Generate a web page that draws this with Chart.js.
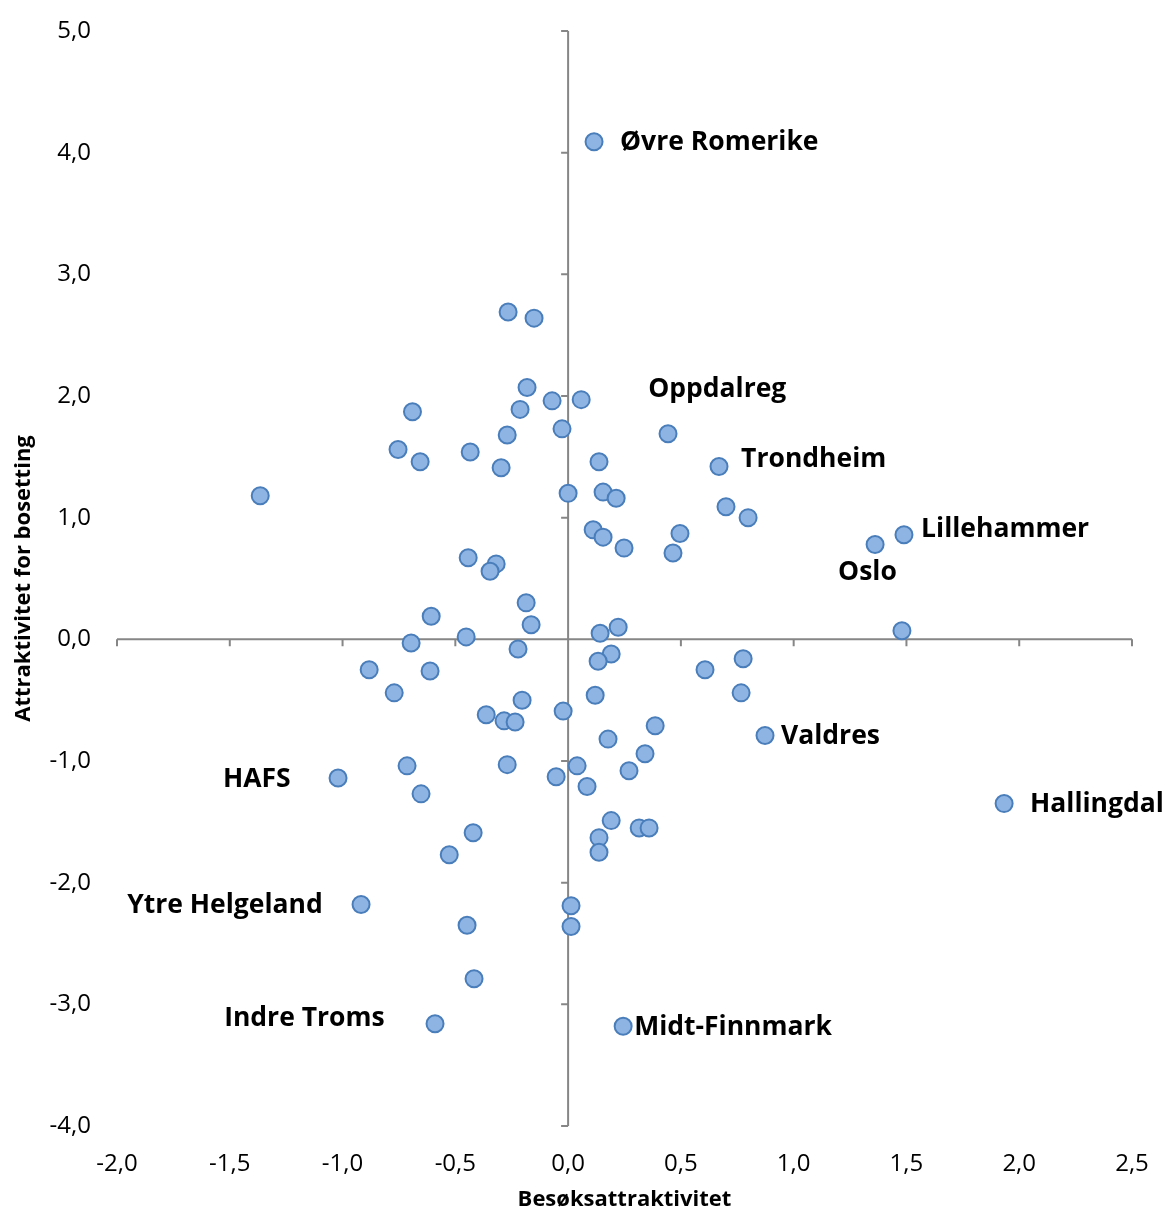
<!DOCTYPE html>
<html>
<head>
<meta charset="utf-8">
<script src="https://cdn.jsdelivr.net/npm/chart.js@4/dist/chart.umd.min.js"></script>
<style>
  body { margin: 0; background: #fff; }
  #wrap { width: 1165px; height: 1213px; position: relative; }
</style>
</head>
<body>
<div id="wrap"><canvas id="chart"></canvas></div>
<script>
// Besøksattraktivitet (x) og attraktivitet for bosetting (y), lest av figuren
const besok = [0.115, -0.266, -0.151, -0.182, -0.071, 0.058, -0.69, -0.213, -0.27, -0.027,
  0.443, -0.754, -0.656, -0.434, -0.297, 0.137, 0.669, -1.365, 0.0, 0.155,
  0.213, 0.70, 0.798, 0.111, 0.155, 0.496, 0.248, 0.465, 1.361, 1.489,
  -0.443, -0.319, -0.346, -0.186, -0.607, -0.164, 1.48, 0.222, 0.142, -0.452,
  -0.696, -0.222, 0.191, 0.133, 0.776, -0.882, -0.612, 0.607, -0.771, -0.204,
  0.12, 0.767, -0.022, -0.363, -0.284, -0.235, 0.386, 0.873, 0.177, 0.341,
  -0.714, -0.27, 0.04, 0.27, -1.02, -0.053, 0.084, -0.652, 1.933, 0.191,
  -0.421, 0.315, 0.359, 0.137, 0.137, -0.527, -0.918, 0.013, -0.448, 0.013,
  -0.417, -0.59, 0.244];
const bosetting = [4.09, 2.69, 2.64, 2.07, 1.96, 1.97, 1.87, 1.89, 1.68, 1.73,
  1.69, 1.56, 1.46, 1.54, 1.41, 1.46, 1.42, 1.18, 1.20, 1.21,
  1.16, 1.09, 1.00, 0.90, 0.84, 0.87, 0.75, 0.71, 0.78, 0.86,
  0.67, 0.62, 0.56, 0.30, 0.19, 0.12, 0.07, 0.10, 0.05, 0.02,
  -0.03, -0.08, -0.12, -0.18, -0.16, -0.25, -0.26, -0.25, -0.44, -0.50,
  -0.46, -0.44, -0.59, -0.62, -0.67, -0.68, -0.71, -0.79, -0.82, -0.94,
  -1.04, -1.03, -1.04, -1.08, -1.14, -1.13, -1.21, -1.27, -1.35, -1.49,
  -1.59, -1.55, -1.55, -1.63, -1.75, -1.77, -2.18, -2.19, -2.35, -2.36,
  -2.79, -3.16, -3.18];

// Navn på utvalgte regioner og hvor teksten står (i akseverdier)
const navn   = ['Øvre Romerike', 'Oppdalreg', 'Trondheim', 'Lillehammer', 'Oslo', 'Valdres',
                'HAFS', 'Hallingdal', 'Ytre Helgeland', 'Indre Troms', 'Midt-Finnmark'];
const navnX  = [0.23, 0.355, 0.767, 1.565, 1.197, 0.944, -1.53, 2.048, -1.955, -1.525, 0.293];
const navnY  = [4.08, 2.05, 1.48, 0.90, 0.55, -0.80, -1.15, -1.36, -2.19, -3.12, -3.19];

const xMin = -2, xMax = 2.5, xStep = 0.5;
const yMin = -4, yMax = 5, yStep = 1;

const punkter = besok.map((x, i) => ({ x: x, y: bosetting[i] }));
const komma = v => Number(v).toFixed(1).replace('.', ',');

const tickFont = { family: 'Open Sans', size: 24 };
const titleFont = { family: 'Open Sans', size: 22, weight: 'bold' };
const axisGray = '#868686';

// Aksene krysser i null, med små streker ved hver verdi
const nullAkser = {
  id: 'nullAkser',
  beforeDatasetsDraw(chart) {
    const { ctx, chartArea: a, scales: { x, y } } = chart;
    const x0 = x.getPixelForValue(0);
    const y0 = y.getPixelForValue(0);
    ctx.save();
    ctx.strokeStyle = axisGray;
    ctx.lineWidth = 2;
    ctx.beginPath();
    ctx.moveTo(a.left, y0); ctx.lineTo(a.right, y0);
    ctx.moveTo(x0, a.top); ctx.lineTo(x0, a.bottom);
    x.ticks.forEach(t => {
      const px = x.getPixelForValue(t.value);
      ctx.moveTo(px, y0); ctx.lineTo(px, y0 + 7);
    });
    y.ticks.forEach(t => {
      const py = y.getPixelForValue(t.value);
      ctx.moveTo(x0 - 7, py); ctx.lineTo(x0, py);
    });
    ctx.stroke();
    ctx.restore();
  }
};

const navnelapper = {
  id: 'navnelapper',
  afterDraw(chart) {
    const { ctx, scales: { x, y } } = chart;
    ctx.save();
    ctx.fillStyle = '#000';
    ctx.font = 'bold 26.5px "Open Sans"';
    ctx.textAlign = 'left';
    ctx.textBaseline = 'middle';
    navn.forEach((n, i) => {
      ctx.fillText(n, x.getPixelForValue(navnX[i]), y.getPixelForValue(navnY[i]));
    });
    ctx.restore();
  }
};

new Chart(document.getElementById('chart'), {
  type: 'scatter',
  data: {
    datasets: [{
      data: punkter,
      backgroundColor: '#8EB4E3',
      borderColor: '#4A7EBB',
      borderWidth: 2,
      pointRadius: 8.5,
      pointHoverRadius: 8.5
    }]
  },
  options: {
    responsive: true,
    maintainAspectRatio: false,
    animation: false,
    layout: { padding: { top: 31, right: 33, left: 0, bottom: 0 } },
    plugins: { legend: { display: false }, tooltip: { enabled: false } },
    scales: {
      x: {
        type: 'linear', min: xMin, max: xMax,
        grid: { display: false }, border: { display: false },
        afterFit: s => { s.height = 87; s.paddingLeft = 0; s.paddingRight = 0; },
        ticks: { stepSize: xStep, autoSkip: false, maxRotation: 0, padding: 16,
                 color: '#000', font: tickFont, callback: komma },
        title: { display: true, text: 'Besøksattraktivitet', color: '#000',
                 font: titleFont, padding: { bottom: 0 } }
      },
      y: {
        type: 'linear', min: yMin, max: yMax,
        grid: { display: false }, border: { display: false },
        afterFit: s => { s.width = 117; s.paddingTop = 0; s.paddingBottom = 0; },
        ticks: { stepSize: yStep, autoSkip: false, padding: 18,
                 color: '#000', font: tickFont, callback: komma },
        title: { display: true, text: 'Attraktivitet for bosetting', color: '#000',
                 font: titleFont, padding: { top: 11 } }
      }
    }
  },
  plugins: [nullAkser, navnelapper]
});
</script>
</body>
</html>
